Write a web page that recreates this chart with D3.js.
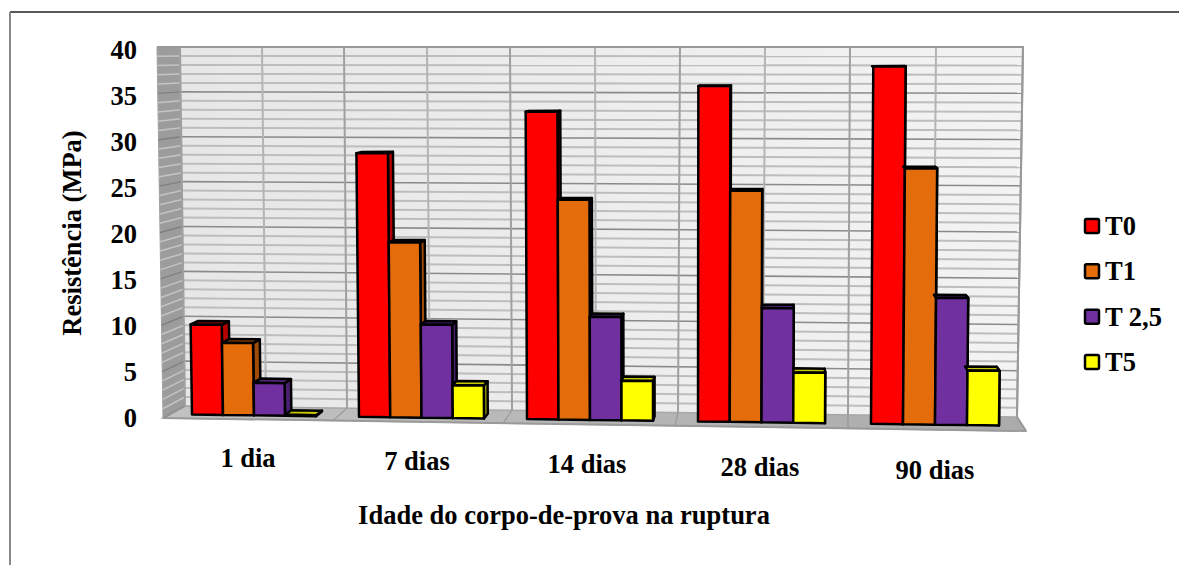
<!DOCTYPE html>
<html><head><meta charset="utf-8">
<style>html,body{margin:0;padding:0;background:#fff}svg{display:block}text{font-family:"Liberation Serif",serif;font-weight:bold;fill:#000}</style>
<script src="https://cdn.jsdelivr.net/npm/d3@7"></script></head><body>
<svg id="c" width="1179" height="565"></svg>
<script>
const categories=["1 dia","7 dias","14 dias","28 dias","90 dias"];
const seriesNames=["T0","T1","T 2,5","T5"];
const T0=[10,29,33.5,36.2,38.2];
const T1=[8,19.2,23.9,24.9,27.3];
const T25=[3.6,10.2,11.2,12.3,13.5];
const T5=[0.1,3.6,4.3,5.4,5.8];
const yTicks=[0,5,10,15,20,25,30,35,40];
const seriesValues=[T0,T1,T25,T5];
const fills=["#FF0000","#E46C0A","#7030A0","#FFFF00"];
const sides=["#B80000","#A04C07","#4A2070","#B0B000"];
const tops=["#C80000","#A85008","#52247A","#C8C800"];

const svg=d3.select("#c");
const defs=svg.append("defs");
const g1=defs.append("linearGradient").attr("id","wall");
g1.append("stop").attr("offset","0").attr("stop-color","#E7E7E7");
g1.append("stop").attr("offset","1").attr("stop-color","#F3F3F3");
const g2=defs.append("linearGradient").attr("id","floor");
g2.append("stop").attr("offset","0").attr("stop-color","#C2C2C2");
g2.append("stop").attr("offset","1").attr("stop-color","#ABABAB");

// frame
svg.append("line").attr("x1",10).attr("x2",1179).attr("y1",12).attr("y2",12).attr("stroke","#222").attr("stroke-width",1.5);
svg.append("line").attr("x1",10).attr("x2",10).attr("y1",12).attr("y2",565).attr("stroke","#888").attr("stroke-width",2);

// wall scales
const V=[0,40];
const yL=d3.scaleLinear().domain(V).range([406,47]);
const yR=d3.scaleLinear().domain(V).range([417,47]);
const yF=d3.scaleLinear().domain(V).range([418,47]);
const gridIdx=d3.range(0,5.01,0.5);
const topX=d3.scaleLinear().domain(gridIdx).range([180,262,344,427,510,595,680,765,850,936,1023]);
const botX=d3.scaleLinear().domain(gridIdx).range([185,266,347,430,512,596,678,763,848,933,1017]);
const frontX=d3.scaleLinear().domain([0,1,2,3,4,5]).range([163,333,503,675,848,1026]);
const frontY=d3.scaleLinear().domain([0,5]).range([418,431]);
const poly=p=>p.map(a=>a.join(",")).join(" ");
const L=(x1,y1,x2,y2,c,w)=>svg.append("line").attr("x1",x1).attr("y1",y1).attr("x2",x2).attr("y2",y2).attr("stroke",c).attr("stroke-width",w);

// side wall, back wall, floor
svg.append("polygon").attr("points",poly([[157,47],[180,47],[185,406],[163,418]])).attr("fill","#9C9C9C").attr("stroke","#A0A0A0");
svg.append("polygon").attr("points",poly([[180,47],[1023,47],[1017,417],[185,406]])).attr("fill","url(#wall)");
svg.append("polygon").attr("points",poly([[163,418],[185,406],[1017,417],[1026,431]])).attr("fill","url(#floor)").attr("stroke","#A8A8A8").attr("stroke-width",1.5);

d3.range(0,41).forEach(v=>{
  const major=v%5===0;
  const sx=d3.scaleLinear().domain([406,47]).range([185,180]);
  const rx=d3.scaleLinear().domain([417,47]).range([1017,1023]);
  const fx=d3.scaleLinear().domain([418,47]).range([163,157]);
  L(fx(yF(v)),yF(v),sx(yL(v)),yL(v),major?"#808080":"#C4C4C4",1.5);
  if(v>0) L(sx(yL(v)),yL(v),rx(yR(v)),yR(v),major?"#8A8A8A":"#BDBDBD",major?1.6:2);
});
gridIdx.forEach(i=>{
  const major=i%1===0;
  L(topX(i),47,botX(i),yL(0)+(yR(0)-yL(0))*(botX(i)-185)/832,major?"#A0A0A0":"#B4B4B4",2);
  if(major) L(botX(i),yL(0)+(yR(0)-yL(0))*(botX(i)-185)/832,frontX(i),frontY(i),"#989898",1.2);
});
// outer wall edge
svg.append("polyline").attr("points",poly([[157,47],[1023,47],[1017,417],[1026,431]])).attr("fill","none").attr("stroke","#999").attr("stroke-width",2);
svg.append("line").attr("x1",163).attr("y1",418).attr("x2",1026).attr("y2",431).attr("stroke","#9A9A9A").attr("stroke-width",2);

// bars (front plane)
const groupX=d3.scaleLinear().domain([0,1,2,3,4]).range([192,359,527,698,871]);
const barW=d3.scaleLinear().domain([0,4]).range([31,32]);
const baseY=d3.scaleLinear().domain([192,999]).range([414.5,425.5]);
const pxPerUnit=d3.scaleLinear().domain([192,999]).range([9.0,9.42]);
const lean=d3.scaleLinear().domain([192,871]).range([-5.5,2.4]);
const depthDx=d3.scaleLinear().domain([163,1026]).range([22,-9]);
const depthDy=d3.scaleLinear().domain([47,418]).range([0,-13]);
const f=0.36;
const P=(x,v)=>[x+lean(x)*v/40,baseY(x)-v*pxPerUnit(x)];
const back=p=>[p[0]+f*depthDx(p[0]),p[1]+f*depthDy(p[1])];
const bars=svg.append("g").attr("stroke","#000").attr("stroke-width",2.5).attr("stroke-linejoin","round");
categories.forEach((c,i)=>{
  seriesValues.forEach((s,k)=>{
    const w=barW(i),x0=groupX(i)+k*w,x1=x0+w,v=s[i];
    const a=P(x0,0),b=P(x1,0),c2=P(x1,v),d=P(x0,v);
    bars.append("polygon").attr("points",poly([b,c2,back(c2),back(b)])).attr("fill",sides[k]);
    bars.append("polygon").attr("points",poly([d,c2,back(c2),back(d)])).attr("fill",tops[k]);
    bars.append("polygon").attr("points",poly([a,b,c2,d])).attr("fill",fills[k]);
  });
});

// y axis
const yAxisScale=d3.scaleLinear().domain(V).range([418,50]);
const ax=svg.append("g").attr("transform","translate(137,0)").call(d3.axisLeft(yAxisScale).tickValues(yTicks).tickSize(0).tickPadding(0));
ax.select(".domain").remove();
ax.selectAll("text").attr("font-size",26.5).attr("font-family","Liberation Serif").attr("font-weight","bold").attr("fill","#000");

// x labels
const labelX=d3.scaleLinear().domain([0,1,2,3,4]).range([248,417,587,760,935]);
const labelY=d3.scaleLinear().domain([0,4]).range([467,479]);
categories.forEach((c,i)=>svg.append("text").attr("x",labelX(i)).attr("y",labelY(i)).attr("text-anchor","middle").attr("font-size",26.5).text(c));

svg.append("text").attr("x",564).attr("y",524).attr("text-anchor","middle").attr("font-size",26.5).text("Idade do corpo-de-prova na ruptura");
svg.append("text").attr("transform","translate(81,233) rotate(-90)").attr("text-anchor","middle").attr("font-size",26.5).text("Resistência (MPa)");

// legend
const legY=d3.scalePoint().domain(seriesNames).range([226,362]);
seriesNames.forEach((n,k)=>{
  svg.append("rect").attr("x",1085).attr("y",legY(n)-7).attr("width",14).attr("height",14).attr("rx",1.5).attr("fill",fills[k]).attr("stroke","#000").attr("stroke-width",2.5);
  svg.append("text").attr("x",1105).attr("y",legY(n)+9).attr("font-size",26.5).text(n);
});
</script></body></html>
